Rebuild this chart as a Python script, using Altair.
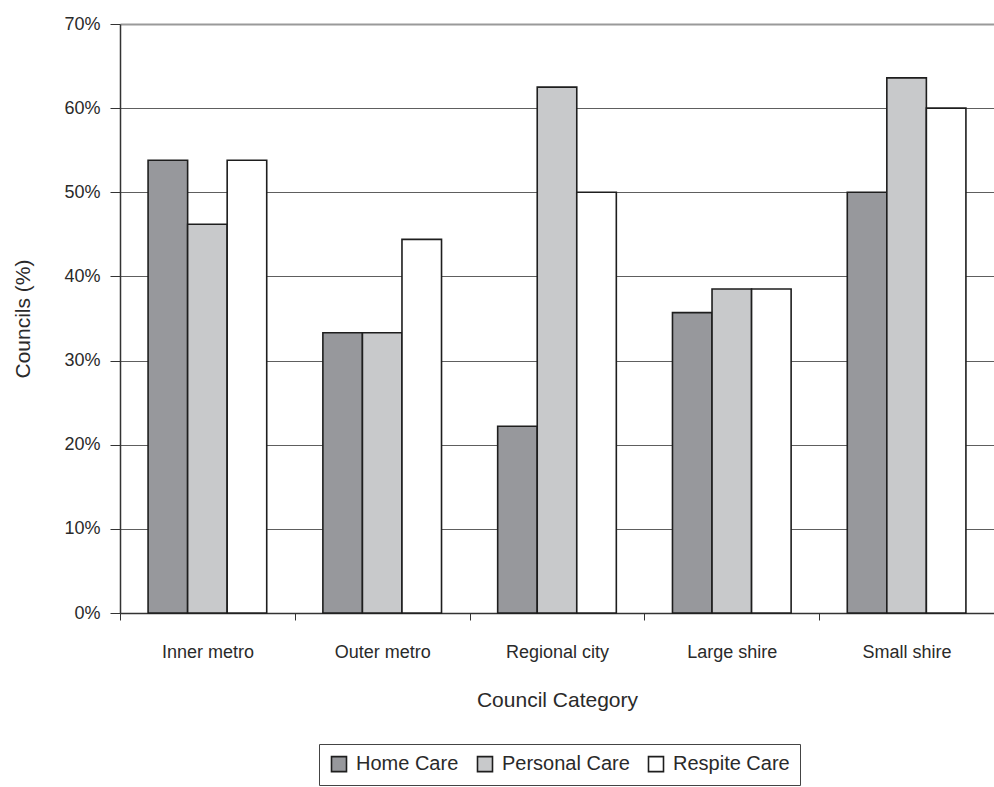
import altair as alt
import pandas as pd

# Share of councils offering each service, by council category (%)
categories = ["Inner metro", "Outer metro", "Regional city", "Large shire", "Small shire"]
services = ["Home Care", "Personal Care", "Respite Care"]
home_care = [53.8, 33.3, 22.2, 35.7, 50.0]
personal_care = [46.2, 33.3, 62.5, 38.5, 63.6]
respite_care = [53.8, 44.4, 50.0, 38.5, 60.0]
y_ticks = [0, 10, 20, 30, 40, 50, 60, 70]
fills = ["#97989c", "#c8c9cb", "#ffffff"]

rows = []
for series, values in zip(services, [home_care, personal_care, respite_care]):
    for cat, v in zip(categories, values):
        rows.append({"category": cat, "service": series, "value": v})
df = pd.DataFrame(rows)

FONT = "Liberation Sans, Arial, sans-serif"
PLOT_W = 874
PLOT_H = 589

chart = (
    alt.Chart(df)
    .mark_bar(stroke="#1e1e1e", strokeWidth=1.6)
    .encode(
        x=alt.X(
            "category:N",
            sort=categories,
            scale=alt.Scale(paddingInner=0, paddingOuter=0),
            axis=alt.Axis(
                title="Council Category",
                tickBand="extent",
                labelAngle=0,
                labelFontSize=18,
                labelBaseline="middle",
                labelPadding=32,
                tickSize=7,
                tickColor="#333333",
                domainColor="#333333",
                domainWidth=1.5,
                titleFontSize=21,
                titleFontWeight="normal",
                titleBaseline="middle",
                titleY=87,
                grid=False,
            ),
        ),
        xOffset=alt.XOffset(
            "service:N",
            sort=services,
            scale=alt.Scale(paddingInner=0, paddingOuter=0.71),
        ),
        y=alt.Y(
            "value:Q",
            scale=alt.Scale(domain=[0, 70], nice=False),
            axis=alt.Axis(
                title="Councils (%)",
                values=y_ticks,
                labelExpr="datum.value + '%'",
                labelFontSize=18,
                labelPadding=10,
                tickSize=10,
                tickColor="#333333",
                domainColor="#333333",
                domainWidth=1.5,
                grid=True,
                gridColor={"condition": {"test": "datum.value === 70", "value": "#9a9a9a"}, "value": "#5e5e5e"},
                gridWidth={"condition": {"test": "datum.value === 70", "value": 2}, "value": 1},
                titleFontSize=21,
                titleFontWeight="normal",
                titleAngle=270,
                titleBaseline="middle",
                titleAlign="center",
                titleX=-97,
                titleY=PLOT_H / 2,
            ),
        ),
        fill=alt.Fill(
            "service:N",
            sort=services,
            scale=alt.Scale(domain=services, range=fills),
            legend=alt.Legend(
                title=None,
                orient="none",
                direction="horizontal",
                legendX=199,
                legendY=720,
                padding=10,
                strokeColor="#444444",
                fillColor="#ffffff",
                symbolType="square",
                symbolSize=225,
                symbolStrokeColor="#1e1e1e",
                symbolStrokeWidth=1.6,
                symbolOpacity=1,
                labelFontSize=20,
                labelOffset=7,
                columnPadding=15,
            ),
        ),
    )
    .properties(
        width=PLOT_W,
        height=PLOT_H,
        autosize=alt.AutoSizeParams(type="none"),
        padding={"left": 120, "top": 24, "right": 0, "bottom": 174},
        background="#ffffff",
    )
    .configure(font=FONT)
    .configure_axis(labelColor="#2a2a2a", titleColor="#2a2a2a")
    .configure_legend(labelColor="#2a2a2a")
    .configure_view(stroke="transparent")
)

chart.save("out.html", embed_options={"renderer": "svg", "actions": False})
